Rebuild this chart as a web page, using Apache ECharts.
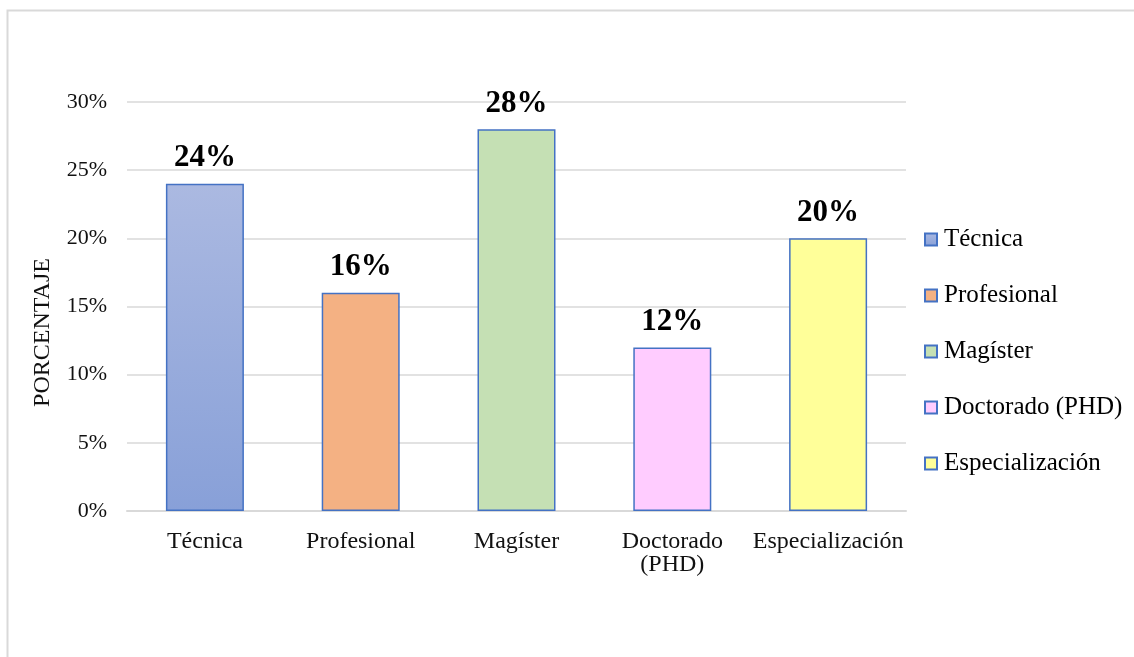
<!DOCTYPE html>
<html lang="es">
<head>
  <meta charset="UTF-8">
  <title>Porcentaje por formación</title>
  <script src="https://cdn.jsdelivr.net/npm/echarts@6/dist/echarts.min.js"></script>
  <style>
    html, body { margin: 0; padding: 0; background: #fff; }
    #chart { width: 1134px; height: 657px; }
  </style>
</head>
<body>
<div id="chart"></div>
<script>
  // datos del gráfico
  var categorias = ['Técnica', 'Profesional', 'Magíster', 'Doctorado (PHD)', 'Especialización'];
  var porcentajes = [24, 16, 28, 12, 20];
  var colores = [
    { type: 'linear', x: 0, y: 0, x2: 0, y2: 1, colorStops: [{ offset: 0, color: '#abb9e1' }, { offset: 1, color: '#88a0d8' }] },
    '#f4b183', '#c5e0b4', '#ffccff', '#ffff99'
  ];
  var yTicks = [0, 5, 10, 15, 20, 25, 30];

  var fuente = '"Liberation Serif", "Times New Roman", serif';
  var chart = echarts.init(document.getElementById('chart'));

  // una serie por categoría para que aparezca en la leyenda
  var series = categorias.map(function (nombre, i) {
    return {
      name: nombre,
      type: 'bar',
      barWidth: 78,
      barGap: '-100%',
      data: porcentajes.map(function (v, j) { return j === i ? v : '-'; }),
      itemStyle: { color: colores[i], borderColor: '#4472c4', borderWidth: 1.5 },
      label: {
        show: true,
        position: 'top',
        distance: 10,
        formatter: '{c}%',
        fontFamily: fuente,
        fontWeight: 'bold',
        fontSize: 31,
        color: '#000'
      }
    };
  });

  var option = {
    animation: false,
    textStyle: { fontFamily: fuente },
    graphic: [{
      type: 'rect',
      shape: { x: 7.5, y: 10.5, width: 1200, height: 700 },
      style: { fill: 'none', stroke: '#d9d9d9', lineWidth: 2 },
      silent: true
    }],
    grid: { left: 127, right: 228, top: 102, bottom: 146 },
    legend: {
      orient: 'vertical',
      left: 919,
      top: 222,
      icon: 'rect',
      itemWidth: 12,
      itemHeight: 12,
      itemGap: 31,
      textStyle: { fontFamily: fuente, fontSize: 25, color: '#000', padding: [0, 0, 0, 2] },
      data: categorias
    },
    xAxis: {
      type: 'category',
      data: categorias,
      axisLine: { lineStyle: { color: '#d9d9d9', width: 2 } },
      axisTick: { show: false },
      axisLabel: {
        interval: 0,
        margin: 19,
        fontFamily: fuente,
        fontSize: 24,
        lineHeight: 23,
        color: '#111',
        formatter: function (v) { return v.replace(' (', '\n('); }
      }
    },
    yAxis: {
      type: 'value',
      min: yTicks[0],
      max: yTicks[yTicks.length - 1],
      interval: 5,
      name: 'PORCENTAJE',
      nameLocation: 'middle',
      nameGap: 72,
      nameTextStyle: { fontFamily: fuente, fontSize: 24, color: '#111', padding: [0, 52, 0, 0] },
      axisLine: { show: false },
      axisTick: { show: false },
      axisLabel: { margin: 20, fontFamily: fuente, fontSize: 22, color: '#111', formatter: '{value}%' },
      splitLine: { lineStyle: { color: '#d9d9d9', width: 1.5 } }
    },
    series: series
  };

  chart.setOption(option);
</script>
</body>
</html>
